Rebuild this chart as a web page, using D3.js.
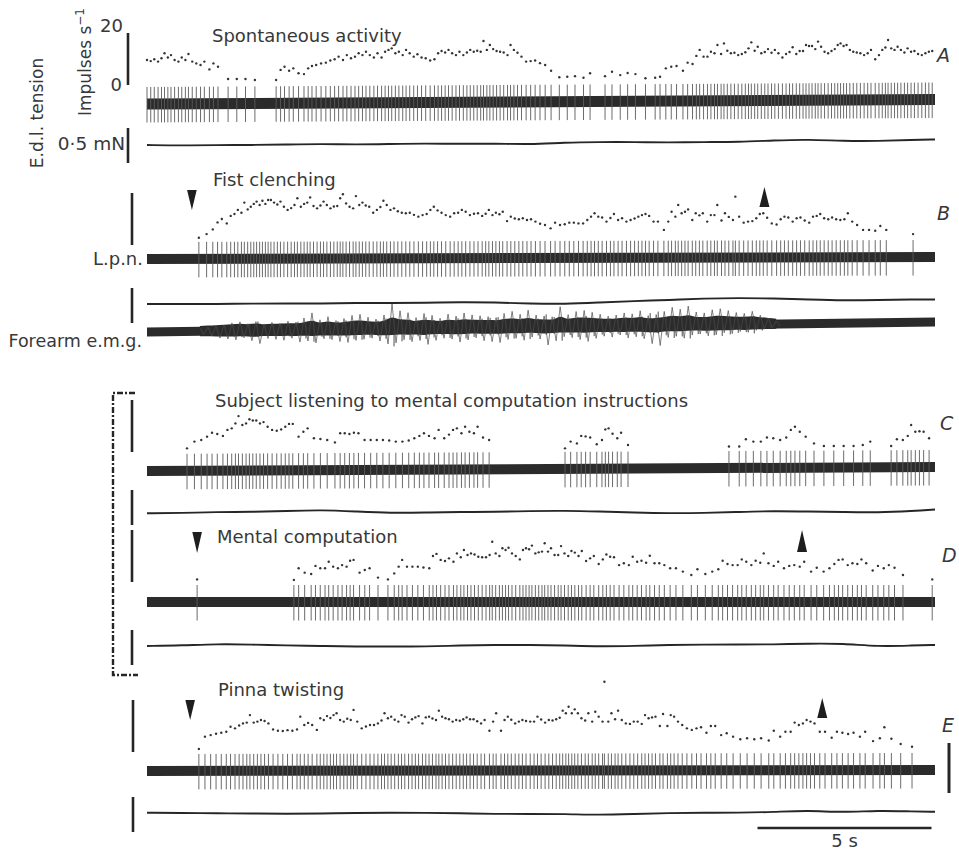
<!DOCTYPE html>
<html><head><meta charset="utf-8">
<script src="https://cdn.jsdelivr.net/npm/d3@7"></script>
<style>
body{margin:0;background:#fff}
text{font-family:"DejaVu Sans",sans-serif;fill:#383838}
</style></head>
<body><svg id="c" width="959" height="851"></svg>
<script>
// ---------------- DATA ----------------
// time axis (s) shared by all records; 5 s calibration bar
const timeDomain = [0, 22.64];
const scaleBarSeconds = [17.54, 22.54];
const rateTicks = ["0", "20"];          // impulses s^-1 labels
const rateRange = [0, 20];
const RATE_OFFSET = 3;                   // ratemeter baseline offset (imp/s)

// Instantaneous frequency (imp/s) of each L.p.n. spike, grouped in runs [t0,t1] (s)
const A_runs = [[0.00, 2.04], [2.33, 3.10], [3.71, 4.74], [4.86, 11.44], [11.61, 12.73], [13.16, 14.60], [14.74, 22.56]];
const A_f1 = [9.6, 9.2, 9.9, 9.0, 10.3, 12.2, 10.6, 11.5, 9.6, 9.0, 10.6, 9.6, 11.9, 9.0, 8.3, 7.7, 9.0, 6.0, 8.3, 7.0];
const A_f2 = [2.3, 2.3, 2.3, 1.9];
const A_f3 = [1.9, 5.8, 7.0, 5.5, 6.4, 4.5, 4.2, 6.4, 7.3];
const A_f4 = [7.7, 8.3, 8.6, 9.4, 9.9, 10.9, 9.6, 11.5, 10.3, 10.9, 12.2, 11.5, 12.8, 11.5, 10.6, 12.2, 10.6, 12.8, 13.5, 14.1, 12.2, 12.8, 11.5, 13.5, 12.2, 10.9, 11.8, 10.6, 10.3, 9.4, 9.9, 12.2, 13.1, 12.5, 13.5, 12.2, 11.5, 12.8, 11.5, 12.5, 13.5, 12.8, 13.2, 12.8, 16.9, 13.5, 15.4, 13.8, 13.1, 12.8, 12.5, 11.5, 15.4, 13.5, 12.4, 10.9, 9.0, 9.2, 9.4, 8.4, 7.7];
const A_f5 = [5.5, 3.0, 3.2, 3.4, 2.8, 4.5];
const A_f6 = [3.4, 5.1, 3.8, 4.6, 4.2, 2.6, 2.8];
const A_f7 = [3.2, 6.4, 7.0, 7.3, 5.5, 8.6, 8.1, 11.2, 13.5, 10.9, 10.9, 12.8, 12.2, 15.4, 11.9, 16.0, 13.2, 12.2, 12.4, 11.5, 11.9, 12.6, 14.1, 16.4, 13.2, 14.7, 12.2, 12.7, 13.8, 12.4, 13.5, 12.2, 10.6, 11.9, 12.7, 14.5, 11.9, 13.1, 13.1, 15.4, 15.0, 15.0, 13.8, 16.7, 14.7, 12.8, 12.2, 13.1, 13.8, 15.4, 16.0, 15.0, 15.4, 13.5, 12.8, 12.5, 12.2, 11.5, 12.2, 13.5, 9.9, 11.5, 13.5, 14.4, 17.3, 14.1, 13.5, 14.7, 13.5, 12.5, 14.1, 12.8, 13.1, 11.9, 11.5, 12.2, 12.8, 13.1];

const B_runs = [[1.49, 3.48], [3.56, 9.51], [9.63, 21.24], [22.01, 22.01]];
const B_f1 = [2.8, 4.2, 6.0, 8.7, 10.0, 8.3, 11.2, 11.9, 13.5, 12.4, 16.3, 13.7, 14.7, 15.8, 16.7, 15.4, 17.0, 15.8, 17.3];
const B_f2 = [17.3, 16.3, 15.6, 16.7, 14.7, 13.5, 14.2, 15.4, 18.0, 14.7, 15.8, 16.3, 18.3, 15.0, 14.1, 15.2, 16.7, 15.4, 14.1, 14.8, 15.0, 18.0, 19.5, 16.0, 14.7, 14.1, 18.8, 15.4, 16.3, 15.2, 14.7, 12.4, 13.5, 14.6, 17.0, 15.4, 13.5, 14.1, 13.0, 12.4, 12.2, 12.4, 11.6, 10.9, 11.5, 11.9, 13.5, 14.7, 13.3, 12.4, 11.5, 10.9, 12.2, 12.4, 13.5, 12.8, 11.5, 12.0, 12.2];
const B_f3 = [11.2, 12.0, 13.5, 11.5, 12.4, 11.8, 12.8, 9.2, 10.9, 10.2, 9.9, 10.3, 9.6, 9.9, 9.0, 8.2, 7.7, 6.4, 8.6, 7.7, 8.0, 8.6, 8.6, 8.3, 8.3, 9.6, 10.9, 12.2, 10.9, 10.6, 9.0, 10.4, 11.9, 9.6, 10.3, 9.0, 9.6, 10.2, 10.9, 11.5, 11.9, 11.2, 9.0, 9.0, 5.8, 9.0, 12.8, 10.9, 15.4, 12.2, 12.8, 13.7, 9.6, 12.2, 11.4, 12.2, 9.0, 11.5, 11.5, 15.4, 9.4, 12.2, 10.8, 9.6, 18.6, 10.9, 8.6, 9.0, 9.2, 10.3, 11.9, 12.2, 10.5, 8.3, 7.9, 9.9, 10.9, 10.6, 9.0, 10.3, 10.6, 9.4, 8.6, 10.9, 11.2, 11.9, 10.3, 9.9, 10.6, 9.9, 9.6, 9.9, 12.2, 9.0, 7.7, 5.8, 5.8, 5.5, 7.3, 5.8];
const B_f4 = [4.2];

const C_runs = [[1.15, 5.40], [5.55, 9.83], [12.01, 13.82], [16.72, 20.78], [21.38, 22.47]];
const C_f1 = [1.4, 4.0, 4.6, 5.9, 7.4, 6.9, 6.2, 8.5, 9.1, 11.0, 13.8, 10.4, 11.0, 12.6, 12.1, 12.1, 11.0, 11.5, 9.7, 8.5, 8.2, 8.7, 9.7, 10.8, 10.8, 5.9, 7.8, 9.1, 5.3, 5.0, 4.6, 3.7];
const C_f2 = [7.2, 7.2, 6.9, 7.4, 7.2, 4.6, 4.6, 4.6, 4.6, 4.4, 4.0, 4.0, 4.4, 5.3, 6.2, 7.2, 6.2, 5.3, 8.5, 5.3, 6.7, 8.5, 9.1, 7.2, 9.7, 7.8, 7.2, 9.7, 5.6, 4.6];
const C_f3 = [1.4, 4.0, 3.3, 6.2, 6.0, 5.6, 3.0, 4.6, 8.7, 9.1, 7.0, 5.3, 7.4, 2.7];
const C_f4 = [2.1, 2.1, 4.9, 4.0, 4.0, 5.6, 5.3, 4.6, 5.6, 8.5, 9.7, 7.8, 5.9, 3.3, 2.3, 2.3, 2.3, 2.3, 2.7, 4.0];
const C_f5 = [2.3, 4.9, 4.6, 6.2, 10.4, 7.8, 8.0, 7.8, 5.3];

const D_runs = [[1.44, 1.44], [4.22, 7.33], [7.47, 21.72], [22.56, 22.56]];
const D_f1 = [1.0];
const D_f2 = [0.8, 5.3, 3.6, 3.1, 6.2, 5.3, 5.3, 7.8, 5.9, 5.3, 6.5, 5.9, 8.2, 8.5, 3.6, 4.6, 5.3, 1.7, 1.0, 3.3, 5.9, 8.5];
const D_f3 = [5.9, 5.9, 5.9, 5.6, 5.3, 10.0, 10.8, 8.5, 8.1, 9.1, 7.8, 11.0, 9.5, 12.3, 10.4, 11.0, 10.6, 9.7, 9.5, 9.5, 10.4, 15.5, 11.0, 10.0, 13.0, 12.3, 13.2, 11.0, 10.0, 8.7, 12.3, 13.0, 12.6, 14.0, 11.0, 11.4, 11.7, 14.9, 11.7, 13.0, 10.4, 10.4, 13.8, 11.0, 10.0, 11.9, 11.3, 10.0, 11.9, 8.1, 9.1, 10.0, 6.9, 8.7, 10.6, 9.7, 9.5, 6.5, 7.2, 6.5, 9.7, 7.8, 8.2, 7.4, 10.1, 7.2, 7.2, 6.5, 5.3, 5.3, 4.0, 2.7, 4.9, 3.1, 4.0, 4.9, 8.2, 6.9, 6.5, 6.5, 8.7, 7.8, 6.5, 8.2, 7.4, 11.0, 7.2, 6.2, 7.8, 5.3, 6.2, 6.5, 5.9, 7.8, 4.0, 5.5, 4.0, 5.3, 6.9, 8.5, 8.7, 6.5, 7.2, 6.9, 8.7, 7.2, 4.4, 6.2, 5.3, 6.5, 5.5, 2.7];
const D_f4 = [1.0];

const E_runs = [[1.49, 10.89], [11.01, 21.98]];
const E_f1 = [1.2, 5.9, 6.5, 7.0, 7.4, 7.8, 9.7, 9.1, 10.2, 11.0, 11.3, 14.2, 11.3, 11.7, 12.3, 11.9, 11.0, 8.7, 8.2, 8.1, 8.4, 8.2, 8.7, 13.6, 10.4, 11.2, 10.4, 8.5, 13.0, 12.3, 13.8, 13.1, 14.2, 14.9, 12.3, 11.7, 12.8, 12.3, 16.2, 11.7, 9.1, 9.8, 10.4, 10.4, 11.0, 12.1, 14.9, 13.0, 13.6, 12.4, 11.7, 14.2, 13.6, 11.3, 12.6, 13.3, 13.8, 11.0, 13.3, 13.6, 12.9, 12.3, 15.9, 13.6, 13.0, 12.6, 11.7, 12.3, 12.0, 12.6, 13.3, 12.6, 12.6, 11.8, 11.0, 12.3, 8.2, 11.7, 14.9, 8.2, 12.3, 13.6, 12.4, 11.0, 11.7, 12.3, 11.9];
const E_f2 = [11.7, 11.7, 13.6, 12.5, 11.3, 12.3, 12.1, 12.6, 13.2, 15.9, 14.9, 17.4, 14.9, 16.4, 14.9, 13.0, 12.1, 14.9, 11.7, 15.5, 13.6, 11.7, 27.0, 11.7, 14.9, 12.6, 15.9, 12.3, 11.0, 10.8, 11.7, 11.7, 10.8, 14.2, 13.0, 13.3, 13.6, 10.0, 14.6, 10.0, 14.2, 13.6, 11.7, 10.4, 9.1, 8.5, 9.1, 9.5, 7.4, 10.0, 10.0, 6.5, 7.2, 5.9, 4.9, 5.3, 4.9, 5.3, 4.4, 8.2, 5.9, 7.8, 7.8, 11.3, 10.4, 11.0, 12.3, 11.7, 11.0, 7.8, 7.8, 5.5, 7.8, 7.4, 6.9, 7.4, 5.9, 7.8, 4.2, 5.3, 9.5, 5.1, 3.1, 2.0];

// stimulus on / off markers (s)
const B_events = [1.29, 17.74];
const D_events = [1.44, 18.82];
const E_events = [1.24, 19.40];

// E.d.l. tension (µN, relative), sampled at tensionTimes (s)
const tensionTimes = [0, 1, 2, 3, 4, 5, 6, 7, 8, 9, 10, 11, 12, 13, 14, 15, 16, 17, 18, 19, 20, 21, 22, 22.64];
const A_tension = [14, 7, 14, 14, 21, 29, 21, 29, 36, 29, 36, 21, 50, 57, 57, 50, 57, 57, 79, 93, 71, 71, 86, 93];
const B_tension = [14, 14, 14, 21, 21, 21, 29, 29, 29, 43, 36, 21, 14, 36, 57, 71, 93, 100, 93, 79, 64, 71, 79, 79];
const C_tension = [10, 14, 29, 29, 43, 57, 36, 14, 21, 29, 29, 43, 47, 36, 21, 10, 14, 29, 43, 36, 29, 21, 43, 64];
const D_tension = [29, 36, 57, 50, 36, 29, 21, 21, 21, 36, 43, 43, 36, 21, 29, 43, 50, 50, 50, 64, 64, 21, 36, 43];
const E_tension = [47, 43, 39, 36, 31, 36, 43, 47, 46, 40, 29, 29, 29, 14, 29, 43, 47, 47, 57, 79, 50, 79, 64, 61];

// Forearm e.m.g. envelope (arbitrary units) in bins from emgStart, every emgStep s
const emgStart = 1.52, emgStep = 0.23;
const emgUp = [3,4,5,6,8,9,7,9,6,8, 7,9,8,12,17,10,13,9,11,14, 15,12,10,14,25,18,16,11,15,13, 10,14,12,15,13,12,11,10,14,16, 13,17,12,11,10,20,12,15,16,14, 12,10,11,13,12,15,10,11,14,18, 16,19,13,12,15,16,14,12,11,13, 9,6,3];
const emgDown = [3,5,7,8,9,7,10,13,8,9, 10,8,12,11,13,9,10,12,13,11, 10,9,12,15,14,11,13,12,16,12, 10,11,14,12,10,13,14,15,12,11, 13,10,12,18,14,10,11,13,15,12, 10,11,9,12,11,13,18,20,12,11, 13,10,9,11,10,8,9,7,8,6, 5,4,2];

const panelTitles = ["Spontaneous activity", "Fist clenching", "Subject listening to mental computation instructions", "Mental computation", "Pinna twisting"];
const panelLetters = ["A", "B", "C", "D", "E"];

// ---------------- LAYOUT ----------------
const svg = d3.select("#c");
svg.append("rect").attr("width", 959).attr("height", 851).attr("fill", "#fff");
const x = d3.scaleLinear().domain(timeDomain).range([147, 935]);
const INK = "#262626";

const panels = [
  {letter: "A", runs: A_runs, f: [A_f1, A_f2, A_f3, A_f4, A_f5, A_f6, A_f7], tension: A_tension, events: null,
   zero: 85, bar: [104, 99.5], barH: 11, tens: 146, rateBarX: 128, tensBar: [128, 163], title: [212, 42], letterPos: [937, 62]},
  {letter: "B", runs: B_runs, f: [B_f1, B_f2, B_f3, B_f4], tension: B_tension, events: B_events,
   zero: 245, bar: [259, 257], barH: 10, tens: 305, rateBarX: 132, tensBar: [288, 323], title: [213, 186], letterPos: [937, 220], ev: [[190, 210], [187, 207]]},
  {letter: "C", runs: C_runs, f: [C_f1, C_f2, C_f3, C_f4, C_f5], tension: C_tension, events: null,
   zero: 452, bar: [471, 467], barH: 10, tens: 514, rateBarX: 132, tensBar: [490, 525], title: [215, 407], letterPos: [940, 430]},
  {letter: "D", runs: D_runs, f: [D_f1, D_f2, D_f3, D_f4], tension: D_tension, events: D_events,
   zero: 582, bar: [602, 602], barH: 10, tens: 648, rateBarX: 132, tensBar: [630, 665], title: [217, 543], letterPos: [942, 562], ev: [[532, 553], [530, 552]]},
  {letter: "E", runs: E_runs, f: [E_f1, E_f2], tension: E_tension, events: E_events,
   zero: 752, bar: [771, 770], barH: 10, tens: 816, rateBarX: 133, tensBar: [797, 832], title: [218, 696], letterPos: [942, 732], ev: [[700, 720], [698, 718]]}
];

function spikeTimes(run, f) {
  const [t0, t1] = run;
  if (f.length === 1) return [t0];
  const w = f.slice(1).map(v => 1 / (v + RATE_OFFSET));
  const tot = d3.sum(w);
  let c = 0;
  const out = [t0];
  w.forEach(v => { c += v; out.push(t0 + (t1 - t0) * c / tot); });
  return out;
}

panels.forEach((p, pi) => {
  const g = svg.append("g");
  const y = d3.scaleLinear().domain(rateRange).range([p.zero, p.zero - 52]);
  const barY = xx => p.bar[0] + (p.bar[1] - p.bar[0]) * (xx - 147) / 788;

  g.append("text").attr("x", p.title[0]).attr("y", p.title[1]).attr("font-size", 18).text(panelTitles[pi]);
  g.append("text").attr("x", p.letterPos[0]).attr("y", p.letterPos[1]).attr("font-size", 19)
    .attr("font-style", "italic").text(panelLetters[pi]);

  g.append("line").attr("x1", p.rateBarX).attr("x2", p.rateBarX).attr("y1", y(rateRange[1])).attr("y2", y(rateRange[0]))
    .attr("stroke", INK).attr("stroke-width", 2.6);
  g.append("line").attr("x1", p.rateBarX).attr("x2", p.rateBarX).attr("y1", p.tensBar[0]).attr("y2", p.tensBar[1])
    .attr("stroke", INK).attr("stroke-width", 2.6);

  g.append("path").attr("d", `M147,${barY(147) - p.barH / 2}L935,${barY(935) - p.barH / 2}L935,${barY(935) + p.barH / 2}L147,${barY(147) + p.barH / 2}Z`)
    .attr("fill", "#2b2b2b");

  const pts = [];
  p.runs.forEach((r, ri) => {
    const ts = spikeTimes(r, p.f[ri]);
    ts.forEach((t, i) => pts.push({t, f: p.f[ri][i]}));
  });
  g.append("g").selectAll("line").data(pts).join("line")
    .attr("x1", d => x(d.t)).attr("x2", d => x(d.t))
    .attr("y1", d => barY(x(d.t)) - 17).attr("y2", d => barY(x(d.t)) + 18.5)
    .attr("stroke", "#5a5a5a").attr("stroke-width", 0.9);
  g.append("g").selectAll("circle").data(pts).join("circle")
    .attr("cx", d => x(d.t)).attr("cy", d => y(d.f)).attr("r", 1.2).attr("fill", "#333");

  const ty = v => p.tens - v * 0.07;
  g.append("path").datum(p.tension.map((v, i) => [tensionTimes[i], v]))
    .attr("d", d3.line().x(d => x(d[0])).y(d => ty(d[1])).curve(d3.curveBasis))
    .attr("fill", "none").attr("stroke", INK).attr("stroke-width", 1.9);

  if (p.events) {
    const xd = x(p.events[0]), yd = p.ev[0];
    g.append("path").attr("d", `M${xd - 4.8},${yd[0]}L${xd + 4.8},${yd[0]}L${xd},${yd[1]}Z`).attr("fill", "#1e1e1e");
    const xu = x(p.events[1]), yu = p.ev[1];
    g.append("path").attr("d", `M${xu - 5},${yu[1]}L${xu + 5},${yu[1]}L${xu},${yu[0]}Z`).attr("fill", "#1e1e1e");
  }
});

// --- Forearm e.m.g. (panel B) ---
(function () {
  const base = xx => 332 + (322 - 332) * (xx - 147) / 788;
  const g = svg.append("g");
  g.append("path").attr("d", `M147,${base(147) - 4.5}L935,${base(935) - 4.5}L935,${base(935) + 4.5}L147,${base(147) + 4.5}Z`).attr("fill", "#2b2b2b");
  const bins = emgUp.map((u, i) => ({t: emgStart + i * emgStep, u, d: emgDown[i]}));
  g.append("path").datum(bins)
    .attr("d", d3.area().x(d => x(d.t)).y0(d => base(x(d.t)) - 4.5 - 0.28 * d.u).y1(d => base(x(d.t)) + 4.5 + 0.12 * d.d).curve(d3.curveMonotoneX))
    .attr("fill", "#2b2b2b");
  const zz = [];
  bins.forEach(b => { const xx = x(b.t); zz.push([xx, base(xx) - b.u]); zz.push([xx + 4, base(xx + 4) + b.d]); });
  g.append("path").attr("d", d3.line()(zz)).attr("fill", "none").attr("stroke", "#4a4a4a").attr("stroke-width", 0.7);
  g.append("g").selectAll("line").data(bins).join("line")
    .attr("x1", d => x(d.t) + 2).attr("x2", d => x(d.t) + 2)
    .attr("y1", d => base(x(d.t)) - d.d * 0.7).attr("y2", d => base(x(d.t)) + d.u * 0.7)
    .attr("stroke", "#3a3a3a").attr("stroke-width", 0.9);
})();

// --- shared labels ---
svg.append("text").attr("transform", "translate(43,113) rotate(-90)").attr("text-anchor", "middle").attr("font-size", 17).text("E.d.l. tension");
const imp = svg.append("text").attr("transform", "translate(91,62) rotate(-90)").attr("text-anchor", "middle").attr("font-size", 17);
imp.append("tspan").text("Impulses s");
imp.append("tspan").attr("dy", -7).attr("font-size", 12).text("−1");
svg.append("text").attr("x", 123).attr("y", 32).attr("text-anchor", "end").attr("font-size", 18).text(rateTicks[1]);
svg.append("text").attr("x", 122).attr("y", 91).attr("text-anchor", "end").attr("font-size", 18).text(rateTicks[0]);
svg.append("text").attr("x", 125).attr("y", 150).attr("text-anchor", "end").attr("font-size", 18.5).text("0·5 mN");
svg.append("text").attr("x", 143).attr("y", 265).attr("text-anchor", "end").attr("font-size", 18).text("L.p.n.");
svg.append("text").attr("x", 142).attr("y", 347).attr("text-anchor", "end").attr("font-size", 17.5).text("Forearm e.m.g.");

// dash-dot bracket for C and D
svg.append("path").attr("d", "M135,393L113,393L113,675L138,675").attr("fill", "none").attr("stroke", INK)
  .attr("stroke-width", 2.4).attr("stroke-dasharray", "6,2,2,2");

// right-side calibration and 5 s bar
svg.append("line").attr("x1", 949).attr("x2", 949).attr("y1", 743).attr("y2", 793).attr("stroke", INK).attr("stroke-width", 3);
svg.append("line").attr("x1", x(scaleBarSeconds[0])).attr("x2", x(scaleBarSeconds[1])).attr("y1", 828).attr("y2", 828)
  .attr("stroke", INK).attr("stroke-width", 2.4);
svg.append("text").attr("x", (x(scaleBarSeconds[0]) + x(scaleBarSeconds[1])) / 2).attr("y", 847).attr("text-anchor", "middle")
  .attr("font-size", 18).text("5 s");
</script></body></html>
